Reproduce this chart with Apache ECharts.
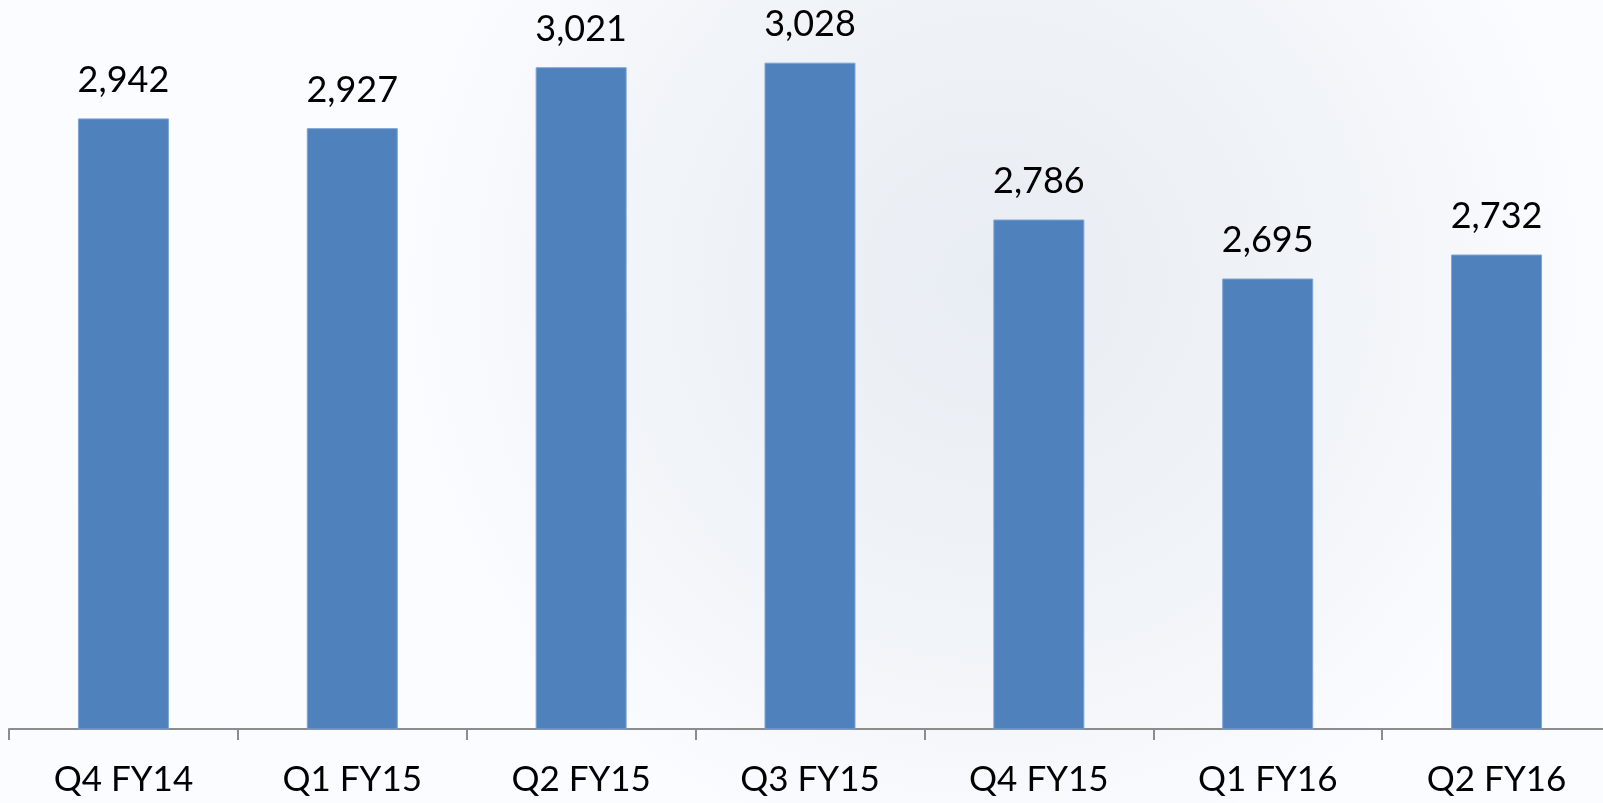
<!DOCTYPE html>
<html><head><meta charset="utf-8">
<script src="https://cdn.jsdelivr.net/npm/echarts@6/dist/echarts.min.js"></script>
<style>html,body{margin:0;padding:0;}#c{width:1603px;height:803px;}</style>
</head><body><div id="c"></div>
<script>
const categories = ['Q4 FY14','Q1 FY15','Q2 FY15','Q3 FY15','Q4 FY15','Q1 FY16','Q2 FY16'];
const values = [2942, 2927, 3021, 3028, 2786, 2695, 2732];

const chart = echarts.init(document.getElementById('c'));
chart.setOption({
  backgroundColor: {
    type: 'radial', x: 0.62, y: 0.35, r: 0.75,
    colorStops: [{offset: 0, color: '#e8edf3'}, {offset: 0.6, color: '#f1f4f8'}, {offset: 1, color: '#fbfcff'}]
  },
  animation: false,
  grid: {left: 9, width: 1602, top: 16, bottom: 74, containLabel: false, outerBoundsMode: 'none'},
  xAxis: {
    type: 'category', data: categories,
    axisLine: {lineStyle: {color: '#8c8c8c', width: 2}},
    axisTick: {show: true, length: 11, lineStyle: {color: '#8c8c8c', width: 2}},
    axisLabel: {color: '#000', fontFamily: 'Lato', fontSize: 35, margin: 33}
  },
  yAxis: {type: 'value', min: 2000, max: 3100, show: false, splitLine: {show: false}},
  series: [{
    type: 'bar', data: values, barWidth: 91,
    itemStyle: {color: '#4f81bd', borderColor: '#7ea3d3', borderWidth: 1},
    label: {
      show: true, position: 'top', distance: 20, color: '#000',
      fontFamily: 'Lato', fontSize: 36,
      formatter: p => p.value.toLocaleString('en-US')
    }
  }]
});
</script></body></html>
